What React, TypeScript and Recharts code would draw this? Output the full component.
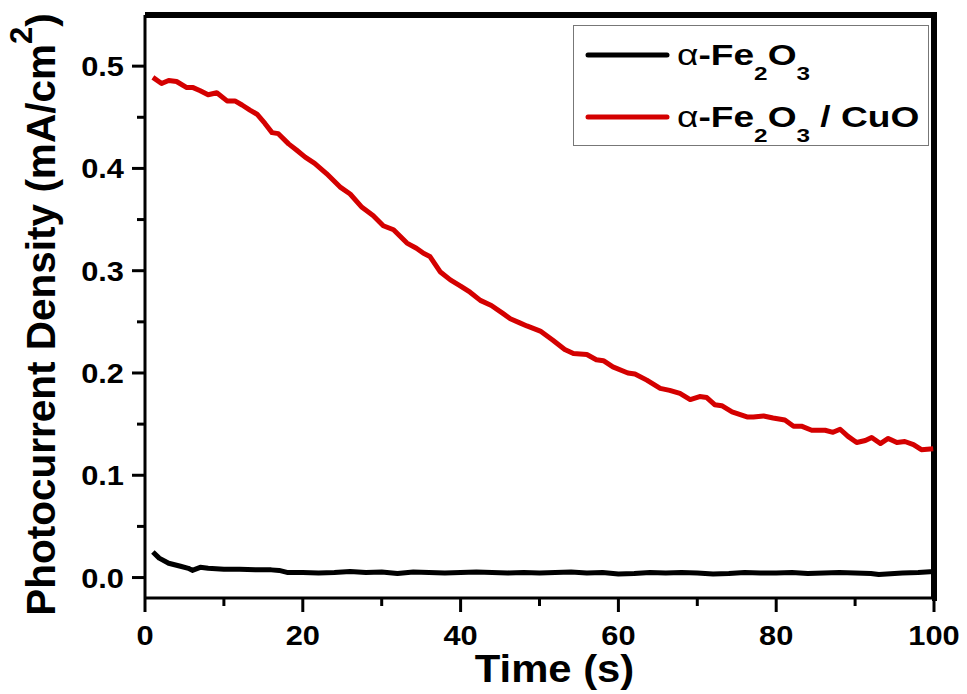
import React from 'react';
import { LineChart, Line, XAxis, YAxis, Legend, ReferenceArea } from 'recharts';

const FONT = '"Liberation Sans", Arial, Helvetica, sans-serif';
const STRETCH = 1.1;

// α-Fe2O3 (black)
const timeFe2O3 = [1, 1.8, 3, 4.5, 5.5, 6, 7, 8, 10, 12, 14, 16, 17, 18, 20, 22, 24, 26, 28, 30, 32, 34, 36, 38, 40, 42, 44, 46, 48, 50, 52, 54, 56, 58, 60, 62, 64, 66, 68, 70, 72, 74, 76, 78, 80, 82, 84, 86, 88, 90, 92, 93, 94, 96, 98, 100];
const currentFe2O3 = [0.025, 0.019, 0.014, 0.011, 0.009, 0.007, 0.010, 0.009, 0.008, 0.008, 0.0075, 0.0075, 0.007, 0.005, 0.005, 0.0045, 0.005, 0.006, 0.005, 0.0055, 0.004, 0.0055, 0.005, 0.0045, 0.005, 0.0055, 0.005, 0.0045, 0.005, 0.0045, 0.005, 0.0055, 0.0045, 0.005, 0.0035, 0.004, 0.005, 0.0045, 0.005, 0.0045, 0.0035, 0.004, 0.005, 0.0045, 0.0045, 0.005, 0.004, 0.0045, 0.005, 0.0045, 0.004, 0.003, 0.0035, 0.0045, 0.005, 0.006];

// α-Fe2O3 / CuO (red)
const timeCuO = [1.0, 2.1, 3.0, 4.0, 5.3, 6.1, 7.0, 8.0, 9.1, 10.4, 11.4, 12.3, 13.3, 14.2, 15.2, 16.1, 16.9, 18.2, 19.2, 20.3, 21.5, 23.0, 24.7, 26.0, 27.5, 28.9, 30.2, 31.5, 33.2, 34.4, 35.3, 36.1, 37.4, 38.7, 40.0, 41.2, 42.5, 43.9, 45.4, 46.3, 47.5, 48.4, 50.1, 51.7, 53.2, 54.3, 56.0, 57.2, 58.1, 59.3, 61.2, 62.1, 63.6, 65.3, 66.5, 67.8, 69.1, 70.3, 71.2, 72.2, 73.1, 74.4, 76.3, 77.1, 78.4, 79.6, 81.1, 82.2, 83.2, 84.5, 86.2, 87.2, 88.1, 89.1, 90.2, 91.3, 92.1, 93.2, 94.2, 95.3, 96.3, 97.4, 98.4, 99.9];
const currentCuO = [0.489, 0.483, 0.486, 0.485, 0.479, 0.479, 0.476, 0.472, 0.474, 0.466, 0.466, 0.462, 0.457, 0.453, 0.444, 0.435, 0.434, 0.424, 0.418, 0.411, 0.405, 0.395, 0.382, 0.375, 0.362, 0.354, 0.344, 0.340, 0.327, 0.322, 0.317, 0.314, 0.299, 0.291, 0.285, 0.279, 0.271, 0.266, 0.258, 0.253, 0.249, 0.246, 0.241, 0.232, 0.223, 0.219, 0.218, 0.213, 0.212, 0.206, 0.200, 0.199, 0.193, 0.185, 0.183, 0.180, 0.174, 0.177, 0.176, 0.169, 0.168, 0.162, 0.157, 0.157, 0.158, 0.156, 0.154, 0.148, 0.148, 0.144, 0.144, 0.142, 0.145, 0.138, 0.132, 0.134, 0.137, 0.131, 0.136, 0.132, 0.133, 0.130, 0.125, 0.126];

const xTicks = [0, 10, 20, 30, 40, 50, 60, 70, 80, 90, 100];
const xMajor = [0, 20, 40, 60, 80, 100];
const yTicks = [0, 0.05, 0.1, 0.15, 0.2, 0.25, 0.3, 0.35, 0.4, 0.45, 0.5];
const yMajor = [0, 0.1, 0.2, 0.3, 0.4, 0.5];
const xDomain = [0, 100];
const yDomain = [-0.02, 0.55];

const seriesNames = ['α-Fe2O3', 'α-Fe2O3 / CuO'];
const seriesColors = ['#000000', '#d40000'];

const dataFe2O3 = timeFe2O3.map((t, i) => ({ t, v: currentFe2O3[i] }));
const dataCuO = timeCuO.map((t, i) => ({ t, v: currentCuO[i] }));

const CHART_W = 967;
const CHART_H = 694;
const MARGIN = { top: 15, right: 33, bottom: 36, left: 85 };
const Y_AXIS_W = 60;
const X_AXIS_H = 60;
const PLOT_W = CHART_W - MARGIN.left - MARGIN.right - Y_AXIS_W;
const PLOT_H = CHART_H - MARGIN.top - MARGIN.bottom - X_AXIS_H;

const isMajor = (v: number, list: number[]) => list.some((m) => Math.abs(m - v) < 1e-9);

const XTick = (props: any) => {
  const { x, y, payload } = props;
  const v = payload.value;
  const major = isMajor(v, xMajor);
  return (
    <g>
      <line x1={x} x2={x} y1={y} y2={y + (major ? 14 : 8)} stroke="#000" strokeWidth={3} />
      {major && (
        <text
          transform={`translate(${x},${y + 47}) scale(${STRETCH},1)`}
          textAnchor="middle"
          fontFamily={FONT}
          fontWeight="bold"
          fontSize={28}
          fill="#000"
        >
          {v}
        </text>
      )}
    </g>
  );
};

const YTick = (props: any) => {
  const { x, y, payload } = props;
  const v = payload.value;
  const major = isMajor(v, yMajor);
  return (
    <g>
      <line x1={x} x2={x - (major ? 13 : 8)} y1={y} y2={y} stroke="#000" strokeWidth={3} />
      {major && (
        <text
          transform={`translate(${x - 21},${y + 10}) scale(${STRETCH},1)`}
          textAnchor="end"
          fontFamily={FONT}
          fontWeight="bold"
          fontSize={28}
          fill="#000"
        >
          {v.toFixed(1)}
        </text>
      )}
    </g>
  );
};

const formatName = (name: string) => {
  const parts: React.ReactNode[] = [];
  let shifted = false;
  let buf = '';
  let key = 0;
  const flush = () => {
    if (!buf) return;
    if (buf.startsWith('α')) {
      parts.push(<tspan key={key++} fontWeight="normal" dy={shifted ? -15 : 0}>α</tspan>);
      shifted = false;
      buf = buf.slice(1);
      if (!buf) return;
    }
    parts.push(<tspan key={key++} dy={shifted ? -15 : 0}>{buf}</tspan>);
    shifted = false;
    buf = '';
  };
  for (const ch of name) {
    if (/[0-9]/.test(ch)) {
      flush();
      parts.push(<tspan key={key++} fontSize={19} dy={shifted ? 0 : 15}>{ch}</tspan>);
      shifted = true;
    } else {
      buf += ch;
    }
  }
  flush();
  return parts;
};

const renderLegend = (props: any) => {
  const payload = props.payload || [];
  return (
    <svg width={356} height={121} style={{ display: 'block' }}>
      <rect x={0.5} y={0.5} width={355} height={120} fill="#fff" stroke="#777" strokeWidth={1} />
      {payload.map((entry: any, i: number) => {
        const cy = 30 + i * 62;
        return (
          <g key={i}>
            <line x1={15} x2={94} y1={cy} y2={cy} stroke={entry.color} strokeWidth={5} strokeLinecap="round" />
            <text
              transform={`translate(104,${cy + 10}) scale(1.28,1)`}
              fontFamily={FONT}
              fontWeight="bold"
              fontSize={29}
              fill="#000"
            >
              {formatName(String(entry.value))}
            </text>
          </g>
        );
      })}
    </svg>
  );
};

const YLabel = (props: any) => {
  const vb = props.viewBox || { x: 85, y: 15, width: 60, height: 583 };
  const cx = vb.x - 30;
  const cy = vb.y + vb.height / 2 + 8;
  return (
    <text
      transform={`translate(${cx},${cy}) rotate(-90)`}
      textAnchor="middle"
      fontFamily={FONT}
      fontWeight="bold"
      fontSize={40.5}
      fill="#000"
    >
      Photocurrent Density (mA/cm
      <tspan fontSize={31} dy={-23}>2</tspan>
      <tspan dy={23}>)</tspan>
    </text>
  );
};

const XLabel = (props: any) => {
  const vb = props.viewBox || { x: 145, y: 598, width: 789, height: 60 };
  const cx = vb.x + vb.width / 2 + 15;
  const cy = vb.y + 84;
  return (
    <text
      transform={`translate(${cx},${cy}) scale(${STRETCH},1)`}
      textAnchor="middle"
      fontFamily={FONT}
      fontWeight="bold"
      fontSize={38}
      fill="#000"
    >
      Time (s)
    </text>
  );
};

const spine = { stroke: '#000', strokeWidth: 3 };
const frameDash = `${PLOT_W + PLOT_H + 2} ${PLOT_W + PLOT_H + 2}`;

export default function App() {
  return (
    <div style={{ position: 'absolute', left: 0, top: 0, background: '#fff' }}>
      <LineChart width={CHART_W} height={CHART_H} margin={MARGIN}>
        <XAxis
          dataKey="t"
          type="number"
          domain={xDomain}
          ticks={xTicks}
          interval={0}
          tickSize={0}
          tickMargin={0}
          tickLine={false}
          axisLine={spine}
          tick={<XTick />}
          height={X_AXIS_H}
          allowDataOverflow
          label={<XLabel />}
        />
        <YAxis
          type="number"
          domain={yDomain}
          ticks={yTicks}
          interval={0}
          tickSize={0}
          tickMargin={0}
          tickLine={false}
          axisLine={spine}
          tick={<YTick />}
          width={Y_AXIS_W}
          allowDataOverflow
          label={<YLabel />}
        />
        <ReferenceArea
          x1={xDomain[0]}
          x2={xDomain[1]}
          y1={yDomain[0]}
          y2={yDomain[1]}
          fill="none"
          fillOpacity={0}
          stroke="#000"
          strokeOpacity={1}
          strokeWidth={6}
          strokeDasharray={frameDash}
          ifOverflow="visible"
        />
        <Line
          data={dataFe2O3}
          dataKey="v"
          name={seriesNames[0]}
          stroke={seriesColors[0]}
          strokeWidth={5}
          dot={false}
          type="linear"
          strokeLinejoin="round"
          isAnimationActive={false}
        />
        <Line
          data={dataCuO}
          dataKey="v"
          name={seriesNames[1]}
          stroke={seriesColors[1]}
          strokeWidth={5}
          dot={false}
          type="linear"
          strokeLinejoin="round"
          isAnimationActive={false}
        />
        <Legend
          layout="vertical"
          align="center"
          verticalAlign="middle"
          content={renderLegend}
          wrapperStyle={{ position: 'absolute', left: 573, top: 25, width: 356, height: 121 }}
        />
      </LineChart>
    </div>
  );
}
